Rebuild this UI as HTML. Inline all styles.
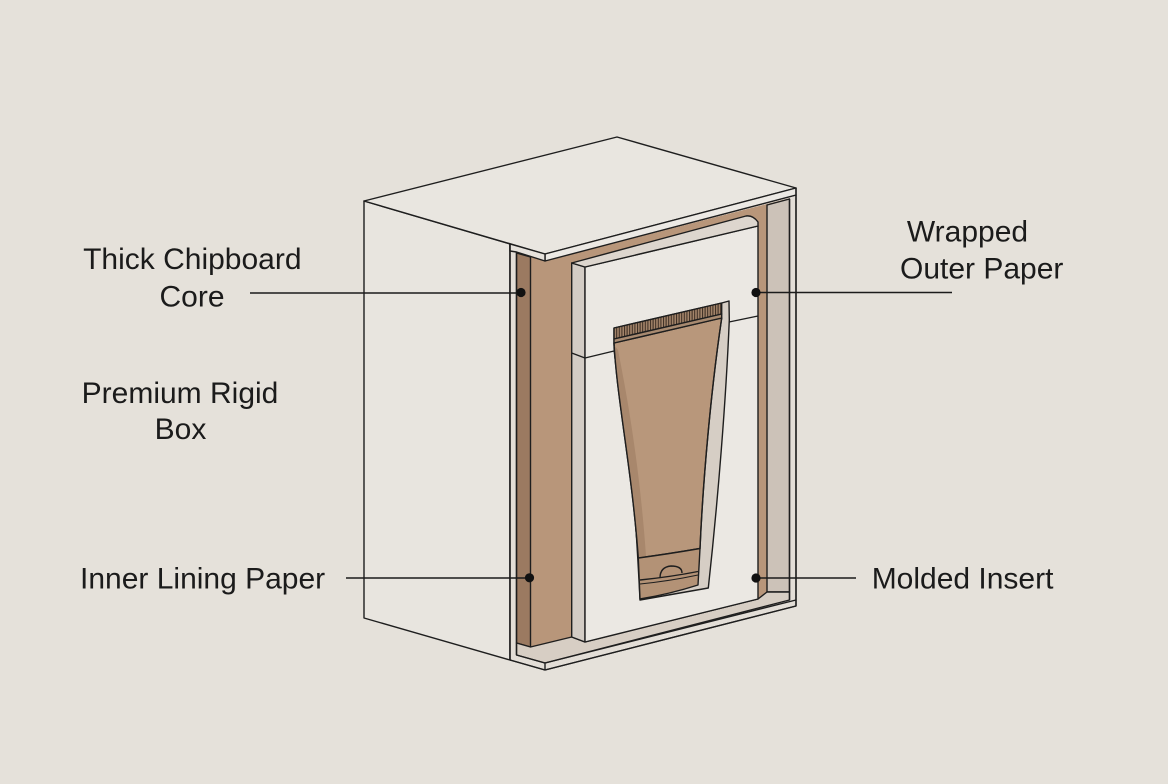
<!DOCTYPE html>
<html><head><meta charset="utf-8"><style>
html,body{margin:0;padding:0;background:#e5e1da;}
svg{display:block;}
text{font-family:"Liberation Sans",Arial,sans-serif;font-size:30px;fill:#1b1b1b;}
</style></head><body>
<svg width="1168" height="784" viewBox="0 0 1168 784" xmlns="http://www.w3.org/2000/svg">
<defs>
<pattern id="crimp" patternUnits="userSpaceOnUse" width="2.6" height="10">
<rect width="2.6" height="10" fill="#a3846a"/>
<rect width="1" height="10" fill="#3a2c22"/>
</pattern>
</defs>
<rect width="1168" height="784" fill="#e5e1da"/>
<g stroke="#1e1e1e" stroke-width="1.4" stroke-linejoin="round">
<!-- left face -->
<polygon points="364,201 510,244 510,660 364,618" fill="#e8e5df"/>
<!-- front wall frame -->
<polygon points="510,244 545,261 796,195 796,606 545,670 510,660" fill="#e3ded7"/>
<!-- cavity tan -->
<polygon points="516.5,252 545,261 790,198 790,600 545,663 516.5,655" fill="#b8967a" stroke="none"/>
<!-- dark chipboard strip -->
<polygon points="516.5,253 530.5,257 530.5,647 516.5,643" fill="#9b7a61"/>
<!-- right side wall -->
<polygon points="767,205 789.5,199 789.5,592 767,592" fill="#ccc2b8"/>
<!-- floor -->
<polygon points="516.5,643 530.5,647 571.7,637 585,642 758,599 767,592 789.5,592 789.5,600 545,663 516.5,655" fill="#d7cec4"/>
<line x1="545" y1="663" x2="545" y2="670"/>
<polyline points="516.5,655 545,663 796,600" fill="none"/>
<line x1="516.5" y1="252" x2="516.5" y2="655"/>
<line x1="789.5" y1="199" x2="789.5" y2="600"/>
<!-- insert left lip -->
<polygon points="571.7,263 585,267 585,642 571.7,637" fill="#d3ccc5"/>
<!-- insert face -->
<polygon points="585,267 758,226 758,599 585,642" fill="#ebe8e3"/>
<!-- insert top lip -->
<path d="M571.7,263 L746,216 Q753,215 758,222 L758,226 L585,267 Z" fill="#ddd6ce"/>
<!-- insert neck lines -->
<polyline points="571.7,353 585,358 614,351" fill="none"/>
<polyline points="729,322 758,316" fill="none"/>
<!-- tube cavity -->
<path d="M614,328 L721.7,303 L729,301 L729.3,320 C726,400 718,500 708.3,588 L640,600 C638,560 633,470 626,420 C620,385 614,360 614,345 Z" fill="#d6cec5"/>
<!-- tube body -->
<path d="M614,343 C617,400 632,470 638.3,558 Q668,554 700,548.5 C703,480 711,390 721.7,318 Z" fill="#b8977b"/>
<path d="M614,345 C617,400 632,470 638.3,558 L646,556 C640,470 628,400 618,350 Z" fill="#a8876c" stroke="none"/>
<path d="M614,343 C617,400 632,470 638.3,558" fill="none"/>
<path d="M700,548.5 C703,480 711,390 721.7,318" fill="none"/>
<!-- cap -->
<path d="M638.3,558 Q668,554 700,548.5 L698,585 Q670,594 640,599 Z" fill="#b39276"/>
<path d="M640,580 Q670,577 698,571.5" fill="none"/>
<path d="M640,584 Q670,581 698,575" fill="none" stroke-width="1"/>
<path d="M660,578 Q660,567 671,566 Q682,566 682,573" fill="none"/>
<!-- crimp -->
<polygon points="614,328 721.7,303 721.7,314 614,339" fill="url(#crimp)"/>
<polygon points="614,339 721.7,314 721.7,318 614,343" fill="#a88a70"/>
<!-- top face -->
<polygon points="364,201 617,137 796,188 545,254" fill="#e9e6e0"/>
<!-- lid thickness -->
<polygon points="545,254 796,188 796,195 545,261" fill="#ece9e4"/>
<polygon points="510,244 545,254 545,261 516.5,252 510,251" fill="#e6e2dc"/>
<line x1="510" y1="244" x2="510" y2="660"/>
<line x1="796" y1="188" x2="796" y2="606"/>
<polyline points="510,660 545,670 796,606" fill="none"/>
</g>
<!-- leaders -->
<g stroke="#1b1b1b" stroke-width="1.5">
<line x1="250" y1="293" x2="521" y2="293"/>
<line x1="756" y1="292.5" x2="952" y2="292.5"/>
<line x1="346" y1="578" x2="529" y2="578"/>
<line x1="756" y1="578" x2="856" y2="578"/>
</g>
<g fill="#111">
<circle cx="521" cy="292.5" r="4.6"/>
<circle cx="756" cy="292.5" r="4.6"/>
<circle cx="529.5" cy="577.8" r="4.6"/>
<circle cx="756" cy="578" r="4.6"/>
</g>
<!-- labels -->
<text x="192.3" y="269" text-anchor="middle">Thick Chipboard</text>
<text x="192" y="306.5" text-anchor="middle">Core</text>
<text x="180" y="403" text-anchor="middle">Premium Rigid</text>
<text x="180.5" y="439" text-anchor="middle">Box</text>
<text x="967.5" y="241.5" text-anchor="middle">Wrapped</text>
<text x="981.7" y="278.3" text-anchor="middle">Outer Paper</text>
<text x="80" y="588.3">Inner Lining Paper</text>
<text x="871.7" y="588.3">Molded Insert</text>
</svg>
</body></html>
